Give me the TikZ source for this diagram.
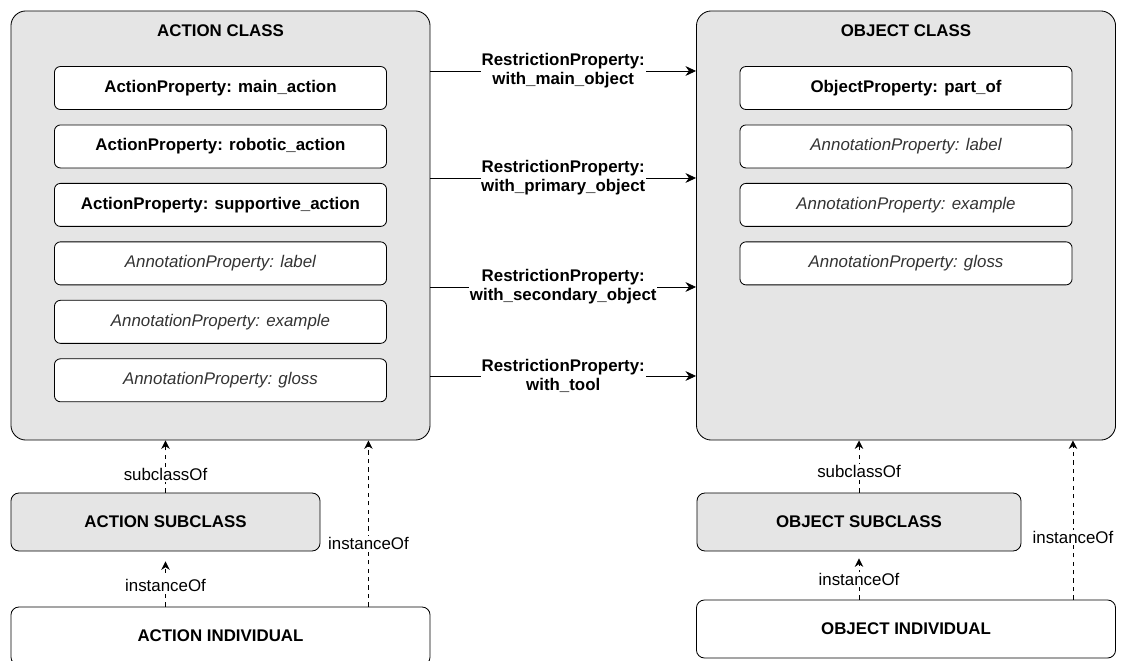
\documentclass[tikz,border=0pt]{standalone}
\usepackage{fontspec}
\setmainfont{Liberation Sans}
\usetikzlibrary{positioning, arrows.meta}

\begin{document}
\begin{tikzpicture}[
    x=0.025cm, y=-0.025cm,
    semithick,
    font=\fontsize{12}{14}\selectfont,
    node distance=0.365cm,
    classbox/.style={rectangle, draw, rounded corners=0.375cm, fill=black!10, minimum width=10.475cm, minimum height=10.725cm},
    classtitle/.style={font=\fontsize{12}{14}\selectfont\bfseries},
    propbox/.style={rectangle, draw, rounded corners=0.15cm, fill=white, minimum width=8.3cm, minimum height=1.075cm, font=\fontsize{12}{14}\selectfont\bfseries},
    annobox/.style={propbox, font=\fontsize{12}{14}\selectfont\itshape, text=black!80},
    subbox/.style={rectangle, draw, rounded corners=0.2cm, fill=black!10, minimum height=1.45cm, font=\fontsize{12}{14}\selectfont\bfseries},
    indbox/.style={subbox, fill=white},
    relation/.style={-{Stealth[length=7.5pt, width=7pt]}},
    rellabel/.style={fill=white, align=center, inner sep=0.5pt, font=\fontsize{12}{13.5}\selectfont\bfseries},
    dependency/.style={dashed, -{Stealth[length=6pt, width=6pt]}},
    deplabel/.style={fill=white, inner sep=1pt}
]
\useasboundingbox (0,0) rectangle (1122,661);

% Class boxes
\node[classbox] (actcls) at (220.5,225.5) {};
\node[classbox] (objcls) at (906,225.5) {};
\node[classtitle] (acttitle) at (220.5,31) {ACTION CLASS};
\node[classtitle] (objtitle) at (906,31) {OBJECT CLASS};

% Action properties
\node[propbox] (actp1) at (220.5,88) {ActionProperty: main\_action};
\node[propbox, below=of actp1] (actp2) {ActionProperty: robotic\_action};
\node[propbox, below=of actp2] (actp3) {ActionProperty: supportive\_action};
\node[annobox, below=of actp3] (acta1) {AnnotationProperty: label};
\node[annobox, below=of acta1] (acta2) {AnnotationProperty: example};
\node[annobox, below=of acta2] (acta3) {AnnotationProperty: gloss};

% Object properties
\node[propbox] (objp1) at (906,88) {ObjectProperty: part\_of};
\node[annobox, below=of objp1] (obja1) {AnnotationProperty: label};
\node[annobox, below=of obja1] (obja2) {AnnotationProperty: example};
\node[annobox, below=of obja2] (obja3) {AnnotationProperty: gloss};

% Subclasses and individuals
\node[subbox, minimum width=7.725cm] (actsub) at (165.5,522) {ACTION SUBCLASS};
\node[indbox, minimum width=10.475cm] (actind) at (220.5,636) {ACTION INDIVIDUAL};
\node[subbox, minimum width=8.1cm] (objsub) at (859,522) {OBJECT SUBCLASS};
\node[indbox, minimum width=10.475cm] (objind) at (906,629) {OBJECT INDIVIDUAL};

% Restriction properties
\coordinate (ry1) at (0,71);
\coordinate (ry2) at (0,178);
\coordinate (ry3) at (0,287);
\coordinate (ry4) at (0,376);
\draw[relation] (actcls.east |- ry1) -- node[rellabel] (rel1) {RestrictionProperty:\\with\_main\_object} (objcls.west |- ry1);
\draw[relation] (actcls.east |- ry2) -- node[rellabel] (rel2) {RestrictionProperty:\\with\_primary\_object} (objcls.west |- ry2);
\draw[relation] (actcls.east |- ry3) -- node[rellabel] (rel3) {RestrictionProperty:\\with\_secondary\_object} (objcls.west |- ry3);
\draw[relation] (actcls.east |- ry4) -- node[rellabel] (rel4) {RestrictionProperty:\\with\_tool} (objcls.west |- ry4);

% subclassOf / instanceOf
\draw[dependency] (actsub.north) -- node[deplabel, pos=0.35] {subclassOf} (actsub.north |- actcls.south);
\draw[dependency, shorten >=2.5mm] (actind.north -| actsub) -- node[deplabel, pos=0.39] {instanceOf} (actsub.south);
\draw[dependency] ([xshift=-1.55cm]actind.north east) -- node[deplabel, pos=0.38] {instanceOf} ([xshift=-1.55cm]actcls.south east);

\draw[dependency] (objsub.north) -- node[deplabel, pos=0.41] {subclassOf} (objsub.north |- objcls.south);
\draw[dependency, shorten >=1.75mm] (objind.north -| objsub) -- node[deplabel, pos=0.41] {instanceOf} (objsub.south);
\draw[dependency] ([xshift=-1.075cm]objind.north east) -- node[deplabel, pos=0.39] {instanceOf} ([xshift=-1.075cm]objcls.south east);

\end{tikzpicture}
\end{document}
